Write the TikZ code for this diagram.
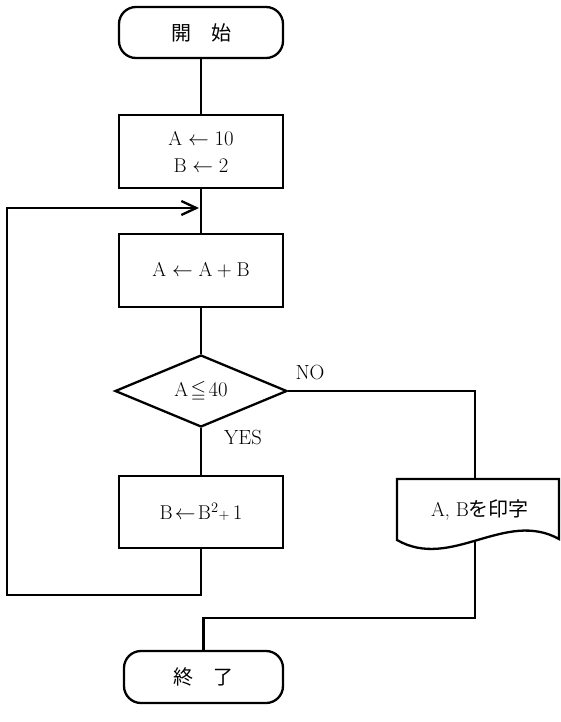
\documentclass[tikz,border=0pt]{standalone}
\usepackage{amssymb}
\usepackage{fontspec}
\newfontfamily\jp{Noto Sans CJK JP}
\usetikzlibrary{shapes.geometric,arrows.meta}
\begin{document}
\begin{tikzpicture}[x=1pt,y=-1pt,line width=2.3pt,
  every node/.style={font=\fontsize{20}{27}\selectfont},
  term/.style={draw, rounded corners=17pt, inner sep=0, minimum width=164pt, minimum height=51pt},
  proc/.style={draw, inner sep=0, minimum width=164pt, minimum height=73pt, align=center},
  decision/.style={draw, diamond, aspect=2.4, inner sep=0, minimum width=172pt, minimum height=72pt},
  lbl/.style={font=\fontsize{20.5}{22}\selectfont, inner sep=0}]
\useasboundingbox (0,0) rectangle (561,722);
\node[term] (start) at (201,32.5) {\jp 開　始};
\node[proc] (init) at (201,151.5) {$\mathrm{A}\leftarrow10$\\$\mathrm{B}\leftarrow2$};
\node[proc] (calc) at (201,270.5) {$\mathrm{A}\leftarrow\mathrm{A}+\mathrm{B}$};
\node[decision] (dec) at (201,391) {$\mathrm{A}\mathrel{\!\leqq\!}40$};
\node[proc, minimum height=72pt] (upd) at (201,512) {$\mathrm{B}\!\leftarrow\!\mathrm{B}^2{\scriptstyle+}\,1$};
\node[inner sep=0] (out) at (480,510) {A, B{\jp を印字}};
\node[term, minimum width=159pt, minimum height=52pt] (end) at (203.5,677) {\jp 終　了};
\node[lbl] (no) at (310,372) {NO};
\node[lbl] (yes) at (243,437) {YES};
% document shape
\draw (397,479) -- (559,479) -- (559,539) .. controls (505,509) and (451,571) .. (397,540) -- cycle;
\coordinate (outtop) at (475,479);
\coordinate (outbot) at (475,541);
\coordinate (lb) at (7,595);
\coordinate (lt) at (7,208);
\coordinate (j) at (199,208);
\coordinate (m) at (475,618);
% connectors
\draw (start) -- (init);
\draw (init) -- (calc);
\draw (calc) -- (dec);
\draw (dec) -- (upd);
\draw (dec.east) -| (outtop);
\draw[-{Straight Barb[length=15pt,width=14pt]}] (upd.south) |- (lb) -- (lt) -- (j);
\draw (outbot) -- (m) -| (end.north);
\end{tikzpicture}
\end{document}
